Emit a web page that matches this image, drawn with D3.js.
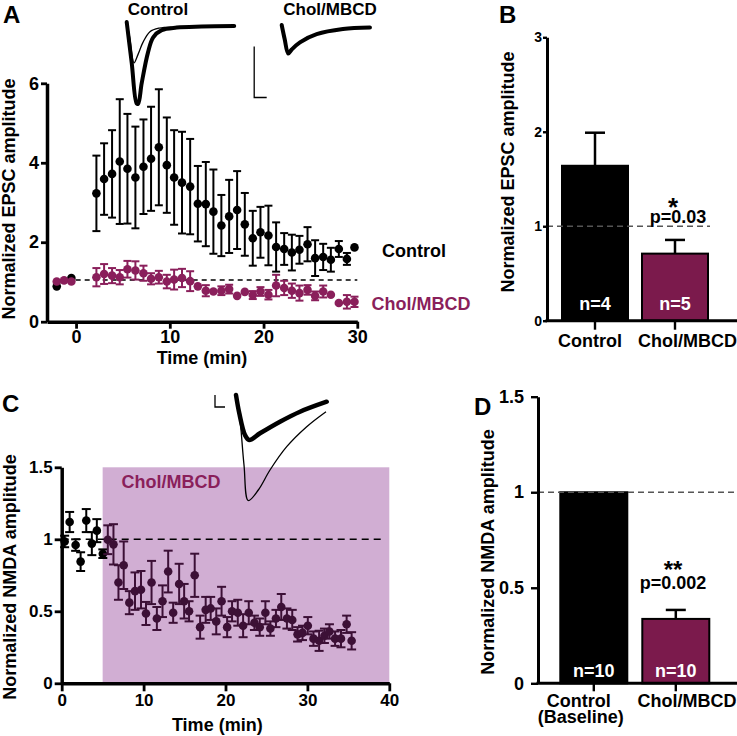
<!DOCTYPE html>
<html><head><meta charset="utf-8">
<script src="https://cdn.jsdelivr.net/npm/d3@7"></script>
<style>
body{margin:0;background:#fff}
text{font-family:"Liberation Sans",Arial,Helvetica,sans-serif;font-weight:bold}
</style></head>
<body><svg id="fig" width="737" height="736"></svg>
<script>
// ---------- DATA ----------
// Panel A: normalized EPSC amplitude vs time (min)
const aCtrlTime = [-2.06,-0.5,2.17,2.99,3.84,4.66,5.48,6.33,7.19,8.0,8.83,9.68,10.46,11.3,12.17,12.99,13.84,14.65,15.5,16.33,17.18,18.0,18.85,19.67,20.52,21.34,22.2,23.02,23.83,24.69,25.5,26.36,27.18,28.03,28.89,29.7];
const aCtrlMean = [0.89,1.10,3.23,3.59,3.72,4.03,3.85,3.63,3.9,4.1,4.39,3.94,3.63,3.5,3.4,2.97,2.96,2.77,2.42,2.65,2.81,2.45,2.10,2.25,2.17,1.88,1.83,1.74,1.81,1.95,1.60,1.63,1.56,1.83,1.58,1.87];
const aCtrlSem  = [0,0,0.95,0.90,1.10,1.57,1.38,1.28,1.19,1.31,1.46,1.20,1.19,1.28,1.2,0.95,1.06,1.06,0.77,0.92,0.98,0.79,0.69,0.64,0.75,0.62,0.40,0.45,0.35,0.43,0.45,0.33,0.30,0.20,0.15,0];
const aCholTime = [-2.06,-1.28,-0.5,2.17,2.99,3.84,4.66,5.48,6.33,7.19,8.0,8.83,9.68,10.46,11.3,12.17,12.99,13.84,14.65,15.5,16.33,17.18,18.0,18.85,19.67,20.52,21.34,22.2,23.02,23.83,24.69,25.5,26.36,27.18,28.03,28.89,29.7];
const aCholMean = [1.01,1.04,1.01,1.12,1.20,1.16,1.12,1.32,1.29,1.22,1.08,1.12,1.01,1.06,1.10,1.02,0.89,0.78,0.76,0.78,0.82,0.65,0.75,0.67,0.76,0.68,0.91,0.85,0.78,0.72,0.80,0.65,0.76,0.68,0.47,0.50,0.50];
const aCholSem  = [0,0,0,0.23,0.25,0.19,0.18,0.21,0.23,0.19,0.14,0.16,0.17,0.25,0.23,0.25,0,0.14,0,0.11,0.11,0,0,0.10,0.11,0.12,0.27,0.18,0.18,0.19,0.12,0.11,0.15,0,0,0.17,0.13];
const aXTicks = [0,10,20,30];
const aYTicks = [0,2,4,6];
const aRefLine = 1.05;

// Panel B: bar chart
const bCats = ["Control","Chol/MBCD"];
const bMean = [1.64,0.71];
const bSem  = [0.35,0.145];
const bN    = ["n=4","n=5"];
const bYTicks = [0,1,2,3];

// Panel C: normalized NMDA amplitude vs time
const cBaseTime = [0.36,0.97,1.7,2.31,3.0,3.68,4.29,5.02];
const cBaseMean = [0.985,1.12,0.96,0.845,1.13,0.97,1.06,0.90];
const cBaseSem  = [0.04,0.07,0.04,0.065,0.08,0.08,0.08,0.03];
const cDrugTime = [5.63,6.32,6.93,7.57,8.26,8.95,9.68,10.29,10.97,11.62,12.31,13.0,13.61,14.34,14.95,15.55,16.24,16.9,17.58,18.19,18.87,19.52,20.2,20.8,21.5,22.15,22.84,23.53,24.18,24.87,25.48,26.16,26.81,27.5,28.15,28.8,29.4,30.05,30.74,31.43,32.08,32.69,33.38,34.1,34.79,35.4];
const cDrugMean = [0.997,0.965,0.70,0.82,0.56,0.64,0.65,0.485,0.70,0.45,0.57,0.776,0.49,0.69,0.57,0.50,0.75,0.39,0.51,0.52,0.43,0.57,0.39,0.50,0.49,0.40,0.49,0.42,0.39,0.49,0.38,0.45,0.53,0.45,0.44,0.34,0.35,0.40,0.31,0.295,0.33,0.36,0.31,0.31,0.41,0.295];
const cDrugSem  = [0.10,0.14,0.12,0.165,0.08,0.13,0.13,0.08,0.15,0.08,0.11,0.145,0.07,0.14,0.12,0.07,0.15,0.08,0.09,0.08,0.09,0.10,0.07,0.07,0.09,0.08,0.08,0.05,0.06,0.08,0.05,0.06,0.09,0.07,0.07,0.05,0.05,0.06,0.05,0.07,0.05,0.05,0.05,0.06,0.06,0.06];
const cDrugWindow = [5,40];
const cXTicks = [0,10,20,30,40];
const cYTicks = [0,0.5,1,1.5];

// Panel D: bar chart
const dCats = ["Control","Chol/MBCD"];
const dSub  = ["(Baseline)",""];
const dMean = [1.0,0.337];
const dSem  = [0,0.047];
const dN    = ["n=10","n=10"];
const dYTicks = [0,0.5,1,1.5];

// Example traces (ms, pA)
const trACtrlAfter = [[0,0],[2,-40],[4,-80],[4.6,-80],[6,-60],[8.5,-30],[10.6,-15],[14,-8],[20,-5.5],[30,-4.5],[43,-4]];
const trACtrlBase  = [[0,0],[1.2,-15],[2.9,-40],[4.5,-32],[6.5,-20],[9.3,-9.5],[13,-6],[18,-5]];
const trAChol      = [[0,0],[1.2,-14],[2.6,-28],[4,-24],[7.3,-17],[14,-9],[24.5,-4],[35.3,-2.5]];
const trCAfter = [[0,0],[6.6,-36.6],[18,-80],[26.6,-90],[48,-76.6],[88,-53.4],[128,-33.4],[181.4,-13.4]];
const trCBase  = [[0,0],[7,-40],[16,-140],[24.6,-211],[44.6,-190],[68,-150],[101.4,-103.4],[141.4,-63.4],[180,-33.4]];

// ---------- STYLE ----------
const PURPLE = "#8a1f5b", BARP = "#7b1a4c", DARKP = "#3c1036", SHADE = "#d1aed3";
const svg = d3.select("#fig");
const fmt = d => String(d);

function styleAxis(g, w, fs){
  g.select(".domain").attr("stroke","#000").attr("stroke-width",w);
  g.selectAll(".tick line").attr("stroke","#000").attr("stroke-width",w*0.8);
  g.selectAll(".tick text").attr("fill","#000").style("font-size",fs+"px").style("font-weight","bold")
    .style("font-family",'"Liberation Sans",Arial,sans-serif');
}
function errBars(g, data, x, y, color, cap, sw){
  const e = g.selectAll(null).data(data.filter(d=>d.s>0)).enter().append("g");
  e.append("line").attr("x1",d=>x(d.t)).attr("x2",d=>x(d.t)).attr("y1",d=>y(d.m+d.s)).attr("y2",d=>y(d.m-d.s))
    .attr("stroke",color).attr("stroke-width",sw);
  [1,-1].forEach(k=>{
    e.append("line").attr("x1",d=>x(d.t)-cap).attr("x2",d=>x(d.t)+cap)
      .attr("y1",d=>y(d.m+k*d.s)).attr("y2",d=>y(d.m+k*d.s)).attr("stroke",color).attr("stroke-width",sw);
  });
}
function dots(g, data, x, y, color, r){
  g.selectAll(null).data(data).enter().append("circle")
    .attr("cx",d=>x(d.t)).attr("cy",d=>y(d.m)).attr("r",r).attr("fill",color);
}
const zip = (t,m,s)=>t.map((v,i)=>({t:v,m:m[i],s:s[i]}));
function ylabel(x, y, txt){
  svg.append("text").attr("transform",`translate(${x},${y}) rotate(-90)`).attr("text-anchor","middle")
    .style("font-size","18px").text(txt);
}
function letter(x,y,t){ svg.append("text").attr("x",x).attr("y",y).style("font-size","24px").text(t); }

// ---------- PANEL A ----------
{
  const x = d3.scaleLinear().domain([-3.1,30]).range([47,357.3]);
  const y = d3.scaleLinear().domain([0,6]).range([321.7,83.3]);
  const g = svg.append("g");
  g.append("line").attr("x1",x(-1)).attr("x2",x(30)).attr("y1",y(aRefLine)).attr("y2",y(aRefLine))
    .attr("stroke","#000").attr("stroke-width",1.4).attr("stroke-dasharray","5,4");
  const ctrl = zip(aCtrlTime,aCtrlMean,aCtrlSem), chol = zip(aCholTime,aCholMean,aCholSem);
  errBars(g, ctrl, x, y, "#000", 4, 2);
  dots(g, ctrl, x, y, "#000", 4.3);
  errBars(g, chol, x, y, PURPLE, 4, 2);
  dots(g, chol, x, y, PURPLE, 4.3);
  const ax = g.append("g").attr("transform",`translate(0,${y(0)})`)
    .call(d3.axisBottom(x).tickValues(aXTicks).tickSize(7).tickSizeOuter(0).tickPadding(2).tickFormat(fmt));
  styleAxis(ax,3.5,18);
  const ay = g.append("g").attr("transform",`translate(${x(-3.1)},0)`)
    .call(d3.axisLeft(y).tickValues(aYTicks).tickSize(6).tickSizeOuter(0).tickPadding(2).tickFormat(fmt));
  styleAxis(ay,3.5,18);
  svg.append("text").attr("x",202).attr("y",364).attr("text-anchor","middle").style("font-size","18px").text("Time (min)");
  ylabel(15,199,"Normalized EPSC amplitude");
  svg.append("text").attr("x",414).attr("y",257).attr("text-anchor","middle").style("font-size","18px").text("Control");
  svg.append("text").attr("x",421).attr("y",310).attr("text-anchor","middle").style("font-size","18px").attr("fill",PURPLE).text("Chol/MBCD");
  letter(3,23,"A");

  // example traces
  svg.append("text").attr("x",158).attr("y",15).attr("text-anchor","middle").style("font-size","17px").text("Control");
  svg.append("text").attr("x",330).attr("y",15).attr("text-anchor","middle").style("font-size","17px").text("Chol/MBCD");
  const line = (tx,ty)=>d3.line().x(d=>tx(d[0])).y(d=>ty(d[1])).curve(d3.curveCatmullRom.alpha(0.5));
  const tx1 = d3.scaleLinear().domain([0,1]).range([126.7,129.2]);
  const ty1 = d3.scaleLinear().domain([0,-1]).range([22,23.02]);
  svg.append("path").attr("d",line(tx1,ty1)(trACtrlBase)).attr("fill","none").attr("stroke","#000").attr("stroke-width",1.3);
  svg.append("path").attr("d",line(tx1,ty1)(trACtrlAfter)).attr("fill","none").attr("stroke","#000").attr("stroke-width",4).attr("stroke-linejoin","round").attr("stroke-linecap","round");
  const tx2 = d3.scaleLinear().domain([0,1]).range([281.7,284.2]);
  const ty2 = d3.scaleLinear().domain([0,-1]).range([25,26.02]);
  svg.append("path").attr("d",line(tx2,ty2)(trAChol)).attr("fill","none").attr("stroke","#000").attr("stroke-width",4).attr("stroke-linejoin","round").attr("stroke-linecap","round");
  // scale bar (5 ms, 50 pA)
  svg.append("path").attr("d",d3.line()([[tx1(51),ty1(-24)],[tx1(51),ty1(-74)],[tx1(56),ty1(-74)]]))
    .attr("fill","none").attr("stroke","#000").attr("stroke-width",1.3);
}

// ---------- PANEL B ----------
{
  const x = d3.scaleBand().domain(bCats).range([555,715]).paddingInner(0.175).paddingOuter(0.0875);
  const y = d3.scaleLinear().domain([0,3]).range([320.7,37.3]);
  const g = svg.append("g");
  const rows = bCats.map((c,i)=>({c,m:bMean[i],s:bSem[i],n:bN[i]}));
  g.selectAll(null).data(rows).enter().append("line")
    .attr("x1",d=>x(d.c)+x.bandwidth()/2).attr("x2",d=>x(d.c)+x.bandwidth()/2)
    .attr("y1",d=>y(d.m)).attr("y2",d=>y(d.m+d.s)).attr("stroke","#000").attr("stroke-width",2.5);
  g.selectAll(null).data(rows).enter().append("line")
    .attr("x1",d=>x(d.c)+x.bandwidth()/2-10).attr("x2",d=>x(d.c)+x.bandwidth()/2+10)
    .attr("y1",d=>y(d.m+d.s)).attr("y2",d=>y(d.m+d.s)).attr("stroke","#000").attr("stroke-width",2.5);
  g.selectAll(null).data(rows).enter().append("rect")
    .attr("x",d=>x(d.c)).attr("width",x.bandwidth()).attr("y",d=>y(d.m)).attr("height",d=>y(0)-y(d.m))
    .attr("fill",(d,i)=>i?BARP:"#000").attr("stroke","#000").attr("stroke-width",2);
  g.append("line").attr("x1",547).attr("x2",710).attr("y1",y(1)).attr("y2",y(1))
    .attr("stroke","#555").attr("stroke-width",1.4).attr("stroke-dasharray","6,4");
  g.selectAll(null).data(rows).enter().append("text")
    .attr("x",d=>x(d.c)+x.bandwidth()/2).attr("y",310).attr("text-anchor","middle")
    .attr("fill","#fff").style("font-size","18px").text(d=>d.n);
  const ax = g.append("g").attr("transform",`translate(0,${y(0)})`)
    .call(d3.axisBottom(x).tickSize(9).tickSizeOuter(0).tickPadding(5));
  ax.select(".domain").attr("d",`M${547-1.5},0H737`);
  styleAxis(ax,3,18);
  ax.selectAll(".tick text").attr("text-anchor","end").attr("x",(d,i)=>i? 737-x(d)-x.bandwidth()/2 : 27);
  const ay = g.append("g").attr("transform",`translate(547,0)`)
    .call(d3.axisLeft(y).tickValues(bYTicks).tickSize(4).tickSizeOuter(0).tickPadding(1).tickFormat(fmt));
  styleAxis(ay,3,14);
  svg.append("text").attr("x",673).attr("y",216).attr("text-anchor","middle").style("font-size","26px").text("*");
  svg.append("text").attr("x",678).attr("y",223).attr("text-anchor","middle").style("font-size","18px").text("p=0.03");
  ylabel(514,172,"Normalized EPSC amplitude");
  letter(499,23,"B");
}

// ---------- PANEL C ----------
{
  const x = d3.scaleLinear().domain([0,40]).range([61.7,389.3]);
  const y = d3.scaleLinear().domain([0,1.5]).range([683.3,467.3]);
  const g = svg.append("g");
  g.append("rect").attr("x",x(cDrugWindow[0])).attr("width",x(cDrugWindow[1])-x(cDrugWindow[0]))
    .attr("y",y(1.5)).attr("height",y(0)-y(1.5)).attr("fill",SHADE);
  g.append("text").attr("x",x(7.3)).attr("y",488).style("font-size","18px").attr("fill",PURPLE).text("Chol/MBCD");
  g.append("line").attr("x1",x(0)).attr("x2",x(39)).attr("y1",y(1)).attr("y2",y(1))
    .attr("stroke","#000").attr("stroke-width",1.4).attr("stroke-dasharray","7,5");
  const base = zip(cBaseTime,cBaseMean,cBaseSem), drug = zip(cDrugTime,cDrugMean,cDrugSem);
  errBars(g, base, x, y, "#000", 4.5, 2);
  dots(g, base, x, y, "#000", 4.3);
  errBars(g, drug, x, y, DARKP, 4.5, 2);
  dots(g, drug, x, y, DARKP, 4.3);
  const ax = g.append("g").attr("transform",`translate(0,${y(0)})`)
    .call(d3.axisBottom(x).tickValues(cXTicks).tickSize(8).tickSizeOuter(0).tickPadding(3).tickFormat(fmt));
  styleAxis(ax,3.5,17);
  const ay = g.append("g").attr("transform",`translate(${x(0)},0)`)
    .call(d3.axisLeft(y).tickValues(cYTicks).tickSize(7).tickSizeOuter(0).tickPadding(2).tickFormat(fmt));
  styleAxis(ay,3.5,17);
  svg.append("text").attr("x",x(19)).attr("y",731).attr("text-anchor","middle").style("font-size","18px").text("Time (min)");
  ylabel(16,577,"Normalized NMDA amplitude");
  letter(2,412,"C");
  // example traces
  const line = (tx,ty)=>d3.line().x(d=>tx(d[0])).y(d=>ty(d[1])).curve(d3.curveCatmullRom.alpha(0.5));
  const tx = d3.scaleLinear().domain([0,1]).range([236,236.5]);
  const ty = d3.scaleLinear().domain([0,-1]).range([395,395.5]);
  svg.append("path").attr("d",line(tx,ty)(trCBase)).attr("fill","none").attr("stroke","#000").attr("stroke-width",1.3);
  svg.append("path").attr("d",line(tx,ty)(trCAfter)).attr("fill","none").attr("stroke","#000").attr("stroke-width",4.5).attr("stroke-linejoin","round").attr("stroke-linecap","round");
  svg.append("path").attr("d",d3.line()([[tx(-42),ty(0)],[tx(-42),ty(-24)],[tx(-22),ty(-24)]]))
    .attr("fill","none").attr("stroke","#000").attr("stroke-width",1.3);
}

// ---------- PANEL D ----------
{
  const x = d3.scaleBand().domain(dCats).range([552.8,716.8]).paddingInner(0.183).paddingOuter(0.0915);
  const y = d3.scaleLinear().domain([0,1.5]).range([683.3,396.7]);
  const g = svg.append("g");
  const rows = dCats.map((c,i)=>({c,m:dMean[i],s:dSem[i],n:dN[i],sub:dSub[i]}));
  g.selectAll(null).data(rows.filter(d=>d.s>0)).enter().append("line")
    .attr("x1",d=>x(d.c)+x.bandwidth()/2).attr("x2",d=>x(d.c)+x.bandwidth()/2)
    .attr("y1",d=>y(d.m)).attr("y2",d=>y(d.m+d.s)).attr("stroke","#000").attr("stroke-width",2.5);
  g.selectAll(null).data(rows.filter(d=>d.s>0)).enter().append("line")
    .attr("x1",d=>x(d.c)+x.bandwidth()/2-10).attr("x2",d=>x(d.c)+x.bandwidth()/2+10)
    .attr("y1",d=>y(d.m+d.s)).attr("y2",d=>y(d.m+d.s)).attr("stroke","#000").attr("stroke-width",2.5);
  g.selectAll(null).data(rows).enter().append("rect")
    .attr("x",d=>x(d.c)).attr("width",x.bandwidth()).attr("y",d=>y(d.m)).attr("height",d=>y(0)-y(d.m))
    .attr("fill",(d,i)=>i?BARP:"#000").attr("stroke","#000").attr("stroke-width",2);
  g.append("line").attr("x1",538).attr("x2",737).attr("y1",y(1)).attr("y2",y(1))
    .attr("stroke","#555").attr("stroke-width",1.4).attr("stroke-dasharray","6,4");
  g.selectAll(null).data(rows).enter().append("text")
    .attr("x",d=>x(d.c)+x.bandwidth()/2).attr("y",677).attr("text-anchor","middle")
    .attr("fill","#fff").style("font-size","18px").text(d=>d.n);
  const ax = g.append("g").attr("transform",`translate(0,${y(0)})`)
    .call(d3.axisBottom(x).tickSize(8).tickSizeOuter(0).tickPadding(3));
  ax.select(".domain").attr("d",`M${538-1.5},0H737`);
  styleAxis(ax,3,18);
  ax.selectAll(".tick text").attr("x",(d,i)=>i? 737-x(d)-x.bandwidth()/2-50 : -15);
  ax.selectAll(".tick").each(function(d){
    const s = dSub[dCats.indexOf(d)];
    if(s){ d3.select(this).append("text").attr("x",-13).attr("y",40).attr("text-anchor","middle")
      .attr("fill","#000").style("font-size","18px").text(s); }
  });
  const ay = g.append("g").attr("transform",`translate(538,0)`)
    .call(d3.axisLeft(y).tickValues(dYTicks).tickSize(7).tickSizeOuter(0).tickPadding(7).tickFormat(fmt));
  styleAxis(ay,3,18);
  svg.append("text").attr("x",673).attr("y",578).attr("text-anchor","middle").style("font-size","24px").text("**");
  svg.append("text").attr("x",673).attr("y",589).attr("text-anchor","middle").style("font-size","18px").text("p=0.002");
  ylabel(494,552,"Normalized NMDA amplitude");
  letter(474,415,"D");
}
</script></body></html>
